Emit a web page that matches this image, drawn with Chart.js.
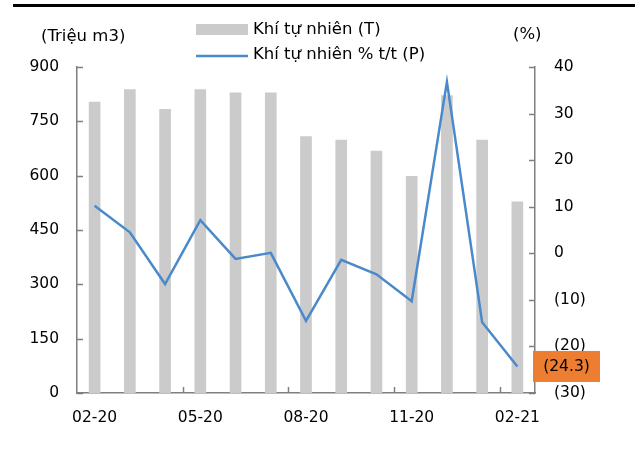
<!DOCTYPE html>
<html>
<head>
<meta charset="utf-8">
<script src="https://cdn.jsdelivr.net/npm/chart.js@4/dist/chart.umd.min.js"></script>
<style>
  body { margin: 0; background: #fff; }
  #wrap { width: 635px; height: 450px; }
</style>
</head>
<body>
<div id="wrap"><canvas id="gasChart" width="635" height="450"></canvas></div>
<script>
// monthly natural gas output and y/y growth
var months = ['02-20', '03-20', '04-20', '05-20', '06-20', '07-20', '08-20',
  '09-20', '10-20', '11-20', '12-20', '01-21', '02-21'];
var gasVolume = [803, 838, 783, 838, 829, 829, 708, 698, 668, 598, 821, 698, 528];
var gasGrowth = [10.2, 4.5, -6.6, 7.1, -1.2, 0.1, -14.5, -1.4, -4.5, -10.3, 36.8, -14.8, -24.3];
var volumeTicks = [0, 150, 300, 450, 600, 750, 900];
var growthTicks = [-30, -20, -10, 0, 10, 20, 30, 40];

var barLabel = 'Khí tự nhiên (T)';
var lineLabel = 'Khí tự nhiên % t/t (P)';

var barColor = '#cbcbcb';
var lineColor = '#4a8acb';
var axisColor = '#7f7f7f';
var font = 'DejaVu Sans';

function fmtPct(v) {
  return v < 0 ? '(' + Math.abs(v) + ')' : String(v);
}

// axis titles, legend, inward tick marks and the last value tag
var decor = {
  id: 'decor',
  afterDraw: function (chart) {
    var ctx = chart.ctx;
    var area = chart.chartArea;
    var xs = chart.scales.x, ys = chart.scales.y, ys1 = chart.scales.y1;
    ctx.save();

    // rule across the top
    ctx.fillStyle = '#000';
    ctx.fillRect(13, 4, 622, 3);

    ctx.strokeStyle = axisColor;
    ctx.lineWidth = 1.5;
    ctx.beginPath();
    volumeTicks.forEach(function (v) {
      var py = Math.round(ys.getPixelForValue(v)) + 0.5;
      ctx.moveTo(area.left, py);
      ctx.lineTo(area.left + 6, py);
    });
    growthTicks.forEach(function (v) {
      var py = Math.round(ys1.getPixelForValue(v)) + 0.5;
      ctx.moveTo(area.right, py);
      ctx.lineTo(area.right - 6, py);
    });
    [3, 6, 9, 12].forEach(function (i) {
      var px = Math.round((xs.getPixelForValue(i - 1) + xs.getPixelForValue(i)) / 2) + 0.5;
      ctx.moveTo(px, area.bottom);
      ctx.lineTo(px, area.bottom - 6);
    });
    ctx.stroke();

    ctx.fillStyle = '#000';
    ctx.font = '16.5px "' + font + '"';
    ctx.textBaseline = 'middle';
    ctx.textAlign = 'left';
    ctx.fillText('(Triệu m3)', 41, 37);
    ctx.fillText('(%)', 513, 35);

    // legend
    ctx.fillStyle = barColor;
    ctx.fillRect(196, 24, 52, 11);
    ctx.strokeStyle = lineColor;
    ctx.lineWidth = 2.5;
    ctx.beginPath();
    ctx.moveTo(196, 56);
    ctx.lineTo(248, 56);
    ctx.stroke();
    ctx.fillStyle = '#000';
    ctx.fillText(barLabel, 253, 30);
    ctx.fillText(lineLabel, 253, 55);

    // tag for the latest growth value
    var last = gasGrowth.length - 1;
    var ty = ys1.getPixelForValue(gasGrowth[last]);
    ctx.fillStyle = '#ed7d31';
    ctx.fillRect(533, ty - 15.5, 67, 31);
    ctx.fillStyle = '#000';
    ctx.font = '15.5px "' + font + '"';
    ctx.textAlign = 'center';
    ctx.fillText(fmtPct(gasGrowth[last]), 566.5, ty + 1);

    ctx.restore();
  }
};

var tickFont = { family: font, size: 15.5 };
var noGrid = { display: false, drawTicks: false };

new Chart(document.getElementById('gasChart'), {
  type: 'bar',
  data: {
    labels: months,
    datasets: [
      {
        type: 'line',
        label: lineLabel,
        data: gasGrowth,
        yAxisID: 'y1',
        borderColor: lineColor,
        borderWidth: 2.5,
        pointRadius: 0,
        tension: 0,
        order: 1
      },
      {
        type: 'bar',
        label: barLabel,
        data: gasVolume,
        yAxisID: 'y',
        backgroundColor: barColor,
        barThickness: 11,
        order: 2
      }
    ]
  },
  options: {
    responsive: false,
    animation: false,
    devicePixelRatio: 1,
    layout: { padding: { top: 67, left: 0, right: 0, bottom: 0 } },
    plugins: {
      legend: { display: false },
      tooltip: { enabled: false }
    },
    scales: {
      x: {
        offset: true,
        grid: noGrid,
        border: { display: true, color: axisColor, width: 1.5 },
        ticks: {
          autoSkip: false,
          maxRotation: 0,
          color: '#000',
          font: tickFont,
          padding: 16,
          callback: function (v, i) { return i % 3 === 0 ? months[i] : ''; }
        },
        afterFit: function (s) { s.height = 57; }
      },
      y: {
        position: 'left',
        min: 0,
        max: 900,
        grid: noGrid,
        border: { display: true, color: axisColor, width: 1.5 },
        ticks: { stepSize: 150, color: '#000', font: tickFont, padding: 18 },
        afterFit: function (s) { s.width = 77; }
      },
      y1: {
        position: 'right',
        min: -30,
        max: 40,
        grid: noGrid,
        border: { display: true, color: axisColor, width: 1.5 },
        ticks: {
          stepSize: 10,
          color: '#000',
          font: tickFont,
          padding: 19,
          callback: function (v) { return fmtPct(v); }
        },
        afterFit: function (s) { s.width = 100; }
      }
    }
  },
  plugins: [decor]
});
</script>
</body>
</html>
